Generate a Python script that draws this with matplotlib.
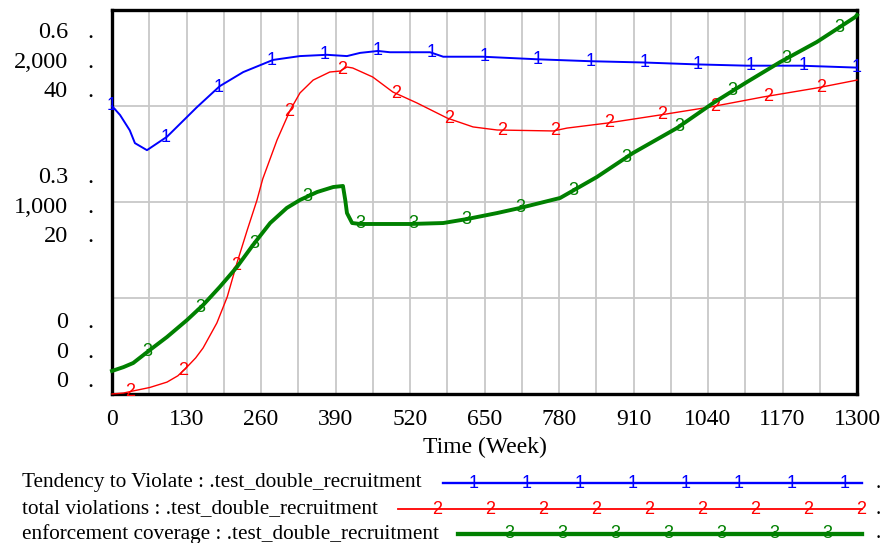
import numpy as np
import matplotlib
matplotlib.use("Agg")
import matplotlib.pyplot as plt
from matplotlib.lines import Line2D

# ---- simulation output (weeks) ----
weeks_tend = [0, 2, 14, 31, 40, 61, 96, 148, 188, 229, 281, 328, 375, 410, 433, 464,
              485, 555, 578, 647, 742, 834, 927, 1021, 1108, 1201, 1300]
tendency = [0.450, 0.448, 0.436, 0.412, 0.392, 0.381, 0.402, 0.448, 0.481, 0.503, 0.522,
            0.528, 0.530, 0.528, 0.533, 0.536, 0.534, 0.534, 0.527, 0.527, 0.523, 0.520,
            0.518, 0.515, 0.513, 0.513, 0.510]

weeks_viol = [0, 20, 37, 66, 96, 115, 131, 146, 159, 183, 201, 218, 236, 253, 263, 288,
              311, 328, 351, 380, 398, 410, 420, 455, 490, 532, 585, 630, 672, 770, 794,
              864, 956, 1044, 1136, 1230, 1300]
violations = [0, 5, 16, 34, 62, 95, 141, 188, 240, 370, 505, 682, 854, 1010, 1120, 1323,
              1479, 1568, 1635, 1677, 1682, 1703, 1698, 1651, 1573, 1516, 1437, 1391, 1375,
              1370, 1385, 1411, 1453, 1495, 1547, 1594, 1635]

weeks_cov = [0, 20, 37, 66, 96, 131, 159, 188, 218, 246, 276, 305, 328, 358, 386, 403,
             407, 410, 419, 433, 520, 578, 620, 672, 712, 782, 846, 909, 986, 1049, 1108,
             1166, 1230, 1297, 1300]
coverage = [2.40, 2.80, 3.23, 4.58, 5.94, 7.71, 9.27, 11.15, 13.23, 15.52, 17.81, 19.38,
            20.21, 21.04, 21.56, 21.67, 20.21, 18.85, 17.81, 17.71, 17.71, 17.81, 18.23,
            18.85, 19.38, 20.42, 22.60, 25.10, 27.71, 30.31, 32.50, 34.58, 36.67, 39.27,
            39.48]

series_names = ["Tendency to Violate : .test_double_recruitment",
                "total violations : .test_double_recruitment",
                "enforcement coverage : .test_double_recruitment"]
series_tags = ["1", "2", "3"]
series_colors = ["#0000ff", "#ff0000", "#008000"]
series_widths = [1.4, 1.0, 2.8]
axis_max = [0.6, 2000, 40]
axis_labels = [["0.6", "0.3", "0"], ["2,000", "1,000", "0"], ["40", "20", "0"]]
x_ticks = list(range(0, 1301, 130))
x_max = 1300

W, H, DPI = 885, 543, 100
SERIF = ["Liberation Serif", "DejaVu Serif"]
SANS = ["Liberation Sans", "DejaVu Sans"]

fig = plt.figure(figsize=(W / DPI, H / DPI), dpi=DPI)
fig.patch.set_facecolor("white")

# plot frame in pixel terms
L, R, T, B = 112, 857, 10, 394
ax = fig.add_axes([L / W, (H - B) / H, (R - L) / W, (B - T) / H])
ax.set_xlim(0, x_max)
ax.set_ylim(0, axis_max[0])
ax.set_xticks(x_ticks)
ax.set_xticks(np.arange(0, x_max + 1, 65), minor=True)
ax.set_yticks(np.linspace(0, axis_max[0], 5))
ax.set_yticklabels([])
ax.tick_params(axis="both", which="both", length=0)
ax.tick_params(axis="x", labelsize=17, pad=11)
for lab in ax.get_xticklabels():
    lab.set_family(SERIF)
ax.grid(True, which="both", color="#c8c8c8", linewidth=1.3)
ax.set_axisbelow(True)
for sp in ax.spines.values():
    sp.set_linewidth(2.4)
    sp.set_color("black")
ax.set_xlabel("Time (Week)", fontsize=17, family=SERIF, labelpad=5)

axes = [ax, ax.twinx(), ax.twinx()]
for a, top in zip(axes[1:], axis_max[1:]):
    a.set_ylim(0, top)
    a.set_yticks([])
    for sp in a.spines.values():
        sp.set_visible(False)

data = [(weeks_tend, tendency), (weeks_viol, violations), (weeks_cov, coverage)]
step = x_max / 14.0
for i, (a, (wx, wy)) in enumerate(zip(axes, data)):
    a.plot(wx, wy, color=series_colors[i], linewidth=series_widths[i],
           solid_joinstyle="round", clip_on=False, zorder=3)
    # numbered tags along each curve
    tag_x = np.arange(i * step / 3.0, x_max + 0.1, step)
    tag_y = np.interp(tag_x, wx, wy)
    for tx, ty in zip(tag_x, tag_y):
        a.text(tx, ty, series_tags[i], color=series_colors[i], fontsize=13,
               family=SANS, ha="center", va="center", zorder=4, clip_on=False)

# stacked scale labels on the left
group_centers = [60, 205, 350]
row_offsets = [-30, 0, 29]
for g, yc in enumerate(group_centers):
    for s in range(3):
        yb = yc + row_offsets[s] + 8
        fig.text(68 / W, 1 - yb / H, axis_labels[s][g], fontsize=17.5, family=SERIF,
                 ha="right", va="baseline")
        fig.text(90 / W, 1 - yb / H, ".", fontsize=17.5, family=SERIF,
                 ha="center", va="baseline")

# legend block below the plot
leg = fig.add_axes([0, 0, 1, 1], facecolor="none")
leg.set_xlim(0, W)
leg.set_ylim(H, 0)
leg.axis("off")
leg_rows = [483, 509, 534]
leg_start = [443, 398, 458]
leg_end = 862
leg_count = [8, 9, 7]
leg_first = [474, 437, 509]
for i in range(3):
    y = leg_rows[i]
    leg.text(22, y + 4.5, series_names[i], fontsize=15.3, family=SERIF, ha="left",
             va="baseline")
    leg.add_line(Line2D([leg_start[i], leg_end], [y, y], color=series_colors[i],
                        linewidth=series_widths[i] + 0.3))
    for k in range(leg_count[i]):
        leg.text(leg_first[i] + 53 * k, y, series_tags[i], color=series_colors[i],
                 fontsize=13, family=SANS, ha="center", va="center")
    leg.text(878, y + 4.5, ".", fontsize=15.3, family=SERIF, ha="center", va="baseline")

fig.savefig("out.png", dpi=DPI, facecolor="white")
